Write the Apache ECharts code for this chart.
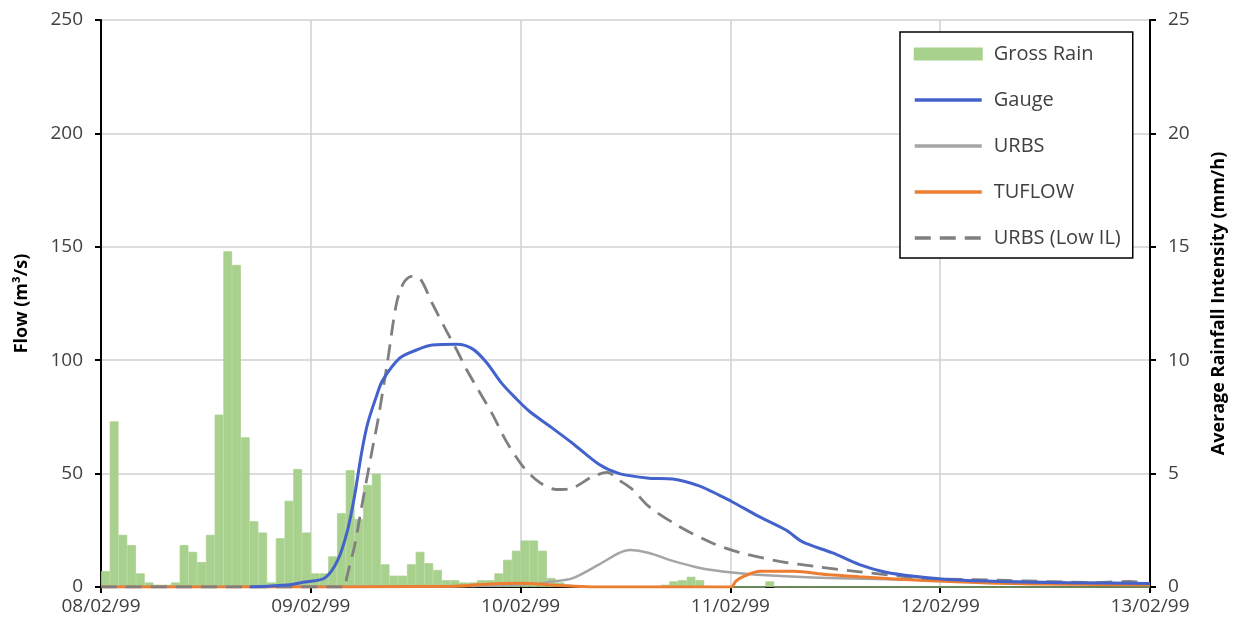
<!DOCTYPE html>
<html>
<head>
<meta charset="utf-8">
<script src="https://cdn.jsdelivr.net/npm/echarts@6/dist/echarts.min.js"></script>
<style>html,body{margin:0;padding:0;background:#fff}#c{width:1242px;height:636px}</style>
</head>
<body>
<div id="c"></div>
<script>
// X axis: hours from 08/02/99 00:00
const xTickLabels = ['08/02/99','09/02/99','10/02/99','11/02/99','12/02/99','13/02/99'];
const flowTicks = [0, 50, 100, 150, 200, 250];
const rainTicks = [0, 5, 10, 15, 20, 25];

// Gross Rain, hourly average intensity (mm/h), 120 hours
const rainDay1 = [0.7, 7.3, 2.3, 1.85, 0.6, 0.2, 0.1, 0.1, 0.2, 1.85, 1.55, 1.1, 2.3, 7.6, 14.8, 14.2, 6.6, 2.9, 2.4, 0.2, 2.15, 3.8, 5.2, 2.4];
const rainDay2 = [0.6, 0.6, 1.35, 3.25, 5.15, 3.0, 4.5, 5.0, 1.0, 0.5, 0.5, 1.0, 1.55, 1.05, 0.75, 0.3, 0.3, 0.2, 0.2, 0.3, 0.3, 0.6, 1.2, 1.6];
const rainDay3 = [2.05, 2.05, 1.6, 0.4, 0.2, 0.1, 0.05, 0.05, 0.05, 0.05, 0.05, 0.05, 0.05, 0.05, 0.05, 0.05, 0.1, 0.25, 0.3, 0.45, 0.3, 0.05, 0, 0];
const rainDay4 = [0, 0, 0, 0, 0.25, 0, 0, 0, 0, 0, 0, 0, 0, 0, 0, 0, 0, 0, 0, 0, 0, 0, 0, 0];
const rainDay5 = [0, 0, 0, 0, 0, 0, 0, 0, 0, 0, 0, 0, 0, 0, 0, 0, 0, 0, 0, 0, 0, 0, 0, 0];

// Gauge flow (m3/s)
const gaugeT = [17, 21.6, 23.3, 25.6, 27.1, 28.2, 29.0, 29.8, 30.5, 31.5, 32.2, 34.2, 36.1, 37.9, 40.7, 42.5, 44.1, 45.8, 47.5, 49.0, 51.3, 53.9, 57.0, 59.3, 62.7, 65.4, 68.5, 70.7, 72.2, 75.3, 78.4, 80.2, 83.7, 86.7, 89.8, 93.3, 97.0, 102.7, 110.4, 120];
const gaugeQ = [0, 1, 2.2, 4, 12, 25, 40, 59, 72, 84, 91, 101, 104.5, 106.7, 107, 105, 99, 90, 83, 77.5, 71, 63.5, 54, 50, 48, 47.6, 44.5, 40.5, 37.6, 31, 25, 20, 15, 10, 6.5, 4.6, 3.3, 2.4, 1.9, 1.5];

// URBS flow
const urbsT = [0, 38.7, 43.3, 47.9, 50.2, 51.3, 53.9, 57.0, 59.3, 60.5, 62.7, 65.4, 68.5, 72.2, 76.1, 83.3, 91.3, 102.7, 120];
const urbsQ = [0, 0.2, 0.6, 1.0, 1.6, 2.3, 3.8, 10.0, 15.0, 16.3, 15.0, 11.5, 8.4, 6.4, 5.2, 4.0, 3.3, 2.5, 1.5];

// TUFLOW flow
const tuflowT = [0, 17.5, 40, 44, 48, 52, 56, 72.1, 72.6, 73.4, 75.4, 79.2, 83.0, 86.7, 91.3, 97.1, 102.8, 110.4, 120];
const tuflowQ = [0, 0, 0.3, 1.2, 1.6, 0.8, 0, 0, 2.5, 4.5, 6.9, 6.9, 5.5, 4.5, 3.4, 2.4, 1.6, 1.2, 1.0];

// URBS (Low IL) flow
const lowT = [0, 27.9, 28.1, 29.0, 29.8, 31.0, 31.7, 32.8, 33.8, 34.6, 35.5, 36.5, 37.9, 39.5, 40.7, 41.8, 43.3, 44.8, 46.4, 48.3, 50.2, 52.1, 53.9, 56.2, 57.9, 59.3, 60.8, 62.7, 66.2, 69.9, 73.0, 77.6, 81.8, 86.8, 93.7, 102.8, 114.2, 117.6, 120];
const lowQ = [0, 0, 4, 18, 35, 60, 74, 100, 125, 134, 137, 136, 125, 113, 104.5, 96, 86, 76, 64, 53, 46, 43, 43.6, 48.6, 50.5, 47, 43, 35.4, 26.6, 19.4, 15.3, 11.3, 9, 6.7, 4, 3, 2, 2.5, 1.5];

const rain = rainDay1.concat(rainDay2, rainDay3, rainDay4, rainDay5);
const hours = rain.map((_, i) => String(i));
const pairs = (t, q) => t.map((v, i) => [v, q[i]]);

const FONT = 'Open Sans';
const labelColor = '#404040';
const rainColor = '#a9d18e';

const chart = echarts.init(document.getElementById('c'), null, {renderer: 'canvas'});
chart.setOption({
  animation: false,
  backgroundColor: '#ffffff',
  grid: {left: 101, right: 92, top: 20, bottom: 49, containLabel: false},
  legend: {
    orient: 'vertical',
    left: 900, top: 32,
    padding: [12, 12, 10, 13],
    backgroundColor: '#ffffff',
    borderColor: '#000000',
    borderWidth: 1.5,
    itemWidth: 67, itemHeight: 11, itemGap: 26,
    itemStyle: {opacity: 0},
    lineStyle: {width: 3.5},
    textStyle: {fontFamily: FONT, fontSize: 20, color: labelColor, padding: [0, 0, 0, 7]},
    data: [
      {name: 'Gross Rain', icon: 'rect', itemStyle: {opacity: 1, color: rainColor}},
      'Gauge', 'URBS', 'TUFLOW', 'URBS (Low IL)'
    ]
  },
  xAxis: [{
    type: 'value', min: 0, max: 120, interval: 24,
    axisLine: {show: true, onZero: false, lineStyle: {color: '#000', width: 2}},
    axisTick: {show: true, length: 6, lineStyle: {color: '#000', width: 2}},
    axisLabel: {margin: 10, fontFamily: FONT, fontSize: 19, color: labelColor,
      formatter: v => xTickLabels[Math.round(v / 24)]},
    splitLine: {show: true, lineStyle: {color: '#d0d0d0', width: 1.5}}
  }, {
    type: 'category', data: hours, show: false, boundaryGap: true
  }],
  yAxis: [{
    type: 'value', min: 0, max: 250, interval: 50,
    name: 'Flow (m³/s)', nameLocation: 'middle', nameGap: 70, nameRotate: 90,
    nameTextStyle: {fontFamily: FONT, fontSize: 18, fontWeight: 'bold', color: '#000'},
    axisLine: {show: true, lineStyle: {color: '#000', width: 2}},
    axisTick: {show: true, length: 6, lineStyle: {color: '#000', width: 2}},
    axisLabel: {margin: 18, fontFamily: FONT, fontSize: 19, color: labelColor,
      formatter: v => String(flowTicks[Math.round(v / 50)])},
    splitLine: {show: true, lineStyle: {color: '#d0d0d0', width: 1.5}}
  }, {
    type: 'value', min: 0, max: 25, interval: 5, position: 'right',
    name: 'Average Rainfall Intensity (mm/h)', nameLocation: 'middle', nameGap: 60, nameRotate: 90,
    nameTextStyle: {fontFamily: FONT, fontSize: 18, fontWeight: 'bold', color: '#000'},
    axisLine: {show: true, lineStyle: {color: '#000', width: 2}},
    axisTick: {show: true, length: 6, lineStyle: {color: '#000', width: 2}},
    axisLabel: {margin: 18, fontFamily: FONT, fontSize: 19, color: labelColor,
      formatter: v => String(rainTicks[Math.round(v / 5)])},
    splitLine: {show: false}
  }],
  series: [{
    name: 'Gross Rain', type: 'bar', xAxisIndex: 1, yAxisIndex: 1,
    data: rain, barCategoryGap: '0%', barGap: '0%',
    itemStyle: {color: rainColor, borderColor: rainColor, borderWidth: 0.8}, z: 1
  }, {
    name: 'Gauge', type: 'line', data: pairs(gaugeT, gaugeQ),
    smooth: 0.3, symbol: 'none', showSymbol: false,
    lineStyle: {color: '#4462cc', width: 3}, itemStyle: {color: '#4462cc'}, z: 5
  }, {
    name: 'URBS', type: 'line', data: pairs(urbsT, urbsQ),
    smooth: 0.3, symbol: 'none', showSymbol: false,
    lineStyle: {color: '#a5a5a5', width: 2.5}, itemStyle: {color: '#a5a5a5'}, z: 3
  }, {
    name: 'TUFLOW', type: 'line', data: pairs(tuflowT, tuflowQ),
    smooth: 0.3, symbol: 'none', showSymbol: false,
    lineStyle: {color: '#ed7d31', width: 3}, itemStyle: {color: '#ed7d31'}, z: 4
  }, {
    name: 'URBS (Low IL)', type: 'line', data: pairs(lowT, lowQ),
    smooth: 0.3, symbol: 'none', showSymbol: false,
    lineStyle: {color: '#7f7f7f', width: 2.8, type: [16, 9]}, itemStyle: {color: '#7f7f7f'}, z: 4
  }]
});
</script>
</body>
</html>
